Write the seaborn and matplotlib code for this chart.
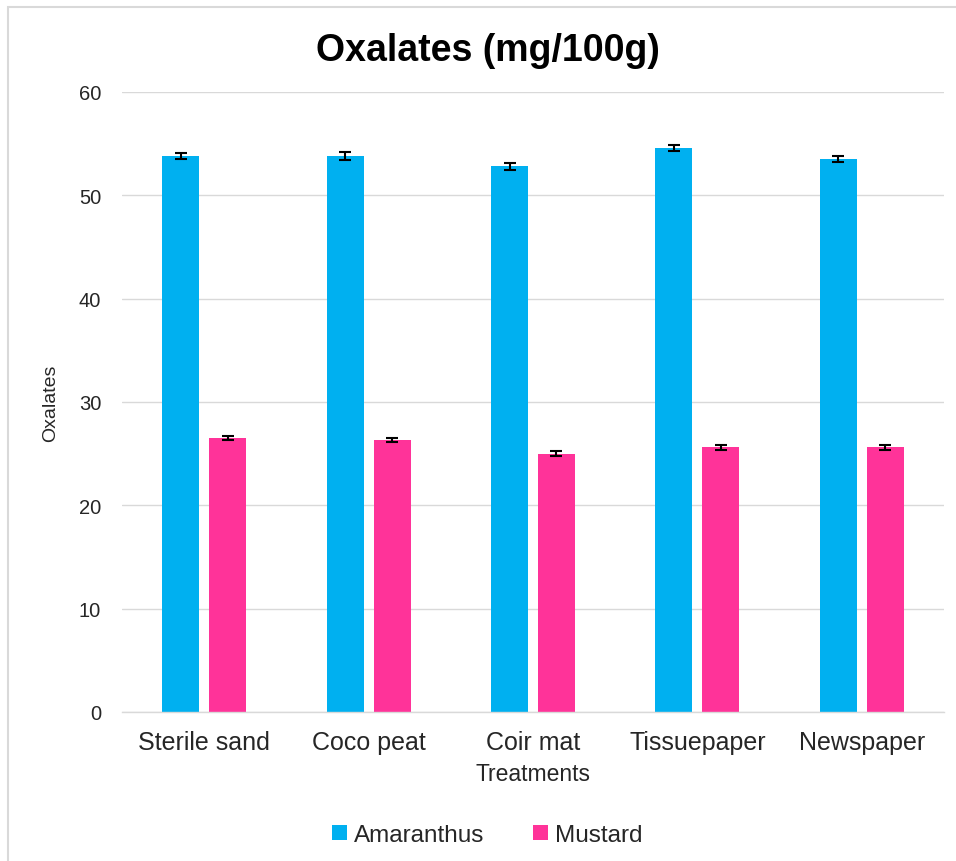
import matplotlib
matplotlib.use("Agg")
import matplotlib.pyplot as plt
import seaborn as sns
import pandas as pd
from matplotlib.patches import Rectangle

# ---------------------------------------------------------------------------
# Data
# ---------------------------------------------------------------------------
treatments = ["Sterile sand", "Coco peat", "Coir mat", "Tissuepaper", "Newspaper"]
crops = ["Amaranthus", "Mustard"]
amaranthus = [53.8, 53.8, 52.8, 54.6, 53.5]
mustard = [26.5, 26.3, 25.0, 25.6, 25.6]
amaranthus_err = [0.3, 0.4, 0.3, 0.3, 0.3]
mustard_err = [0.2, 0.2, 0.25, 0.25, 0.25]
yticks = [0, 10, 20, 30, 40, 50, 60]

colors = {"Amaranthus": "#00B0F0", "Mustard": "#FF3399"}

df = pd.DataFrame({
    "Treatments": treatments * 2,
    "Crop": ["Amaranthus"] * len(treatments) + ["Mustard"] * len(treatments),
    "Oxalates": amaranthus + mustard,
    "err": amaranthus_err + mustard_err,
})

sns.set_theme(style="white")
plt.rcParams["font.family"] = ["Liberation Sans", "DejaVu Sans"]

fig = plt.figure(figsize=(9.56, 8.62), dpi=100)
ax = fig.add_axes([122 / 956, 1 - 713 / 862, 822 / 956, 620 / 862])

sns.barplot(data=df, x="Treatments", y="Oxalates", hue="Crop",
            order=treatments, hue_order=crops, palette=colors,
            width=0.57, gap=0.21, errorbar=None, saturation=1,
            edgecolor="none", ax=ax)

# error bars at the bar centres
for container, crop in zip(ax.containers, crops):
    sub = df[df["Crop"] == crop].set_index("Treatments").loc[treatments]
    xs = [p.get_x() + p.get_width() / 2 for p in container.patches]
    ax.errorbar(xs, sub["Oxalates"], yerr=sub["err"], fmt="none",
                ecolor="black", elinewidth=1.5, capsize=4.5, capthick=1.5, zorder=5)

ax.set_xlim(-0.5, 4.5)
ax.set_ylim(0, 60)
ax.set_yticks(yticks)
ax.yaxis.grid(True, color="#D9D9D9", linewidth=1)
ax.set_axisbelow(True)
for s in ["top", "right", "left"]:
    ax.spines[s].set_visible(False)
ax.spines["bottom"].set_color("#D9D9D9")
ax.spines["bottom"].set_linewidth(1)
ax.tick_params(axis="both", length=0, colors="#262626")
ax.tick_params(axis="y", labelsize=14.5, pad=15)
ax.tick_params(axis="x", labelsize=18, pad=13)
ax.set_xlabel("Treatments", fontsize=16.5, color="#262626", labelpad=6)
ax.set_ylabel("Oxalates", fontsize=14, color="#262626", labelpad=14)

fig.text(0.51, 1 - 51 / 862, "Oxalates (mg/100g)", ha="center", va="center",
         fontsize=27, fontweight="bold", color="black")

ax.legend_.remove()
handles, labels = ax.get_legend_handles_labels()
fig.legend(handles, labels, loc="center", bbox_to_anchor=(0.51, 1 - 836 / 862),
           ncol=2, frameon=False, fontsize=17.5, handlelength=0.6,
           handleheight=0.6, handletextpad=0.3, columnspacing=2.0)

# light grey border around the whole chart
fig.patches.append(Rectangle((8 / 956, -0.01), 1.0, 1 - 8 / 862 + 0.01,
                             transform=fig.transFigure, fill=False,
                             edgecolor="#D9D9D9", linewidth=1.5))

fig.savefig("out.png", dpi=100, facecolor="white")
